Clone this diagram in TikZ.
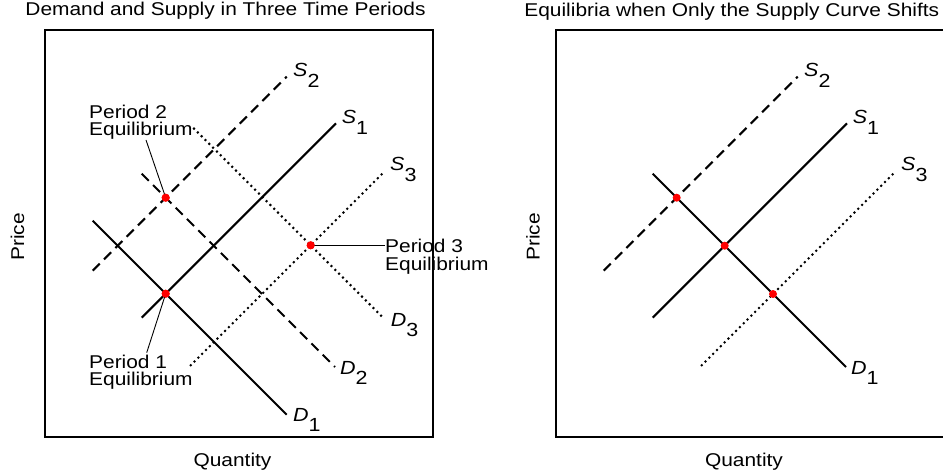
\documentclass[tikz,border=0pt]{standalone}
\usepackage{fontspec}
\setmainfont{Liberation Sans}[FakeStretch=1.13]
\begin{document}
\begin{tikzpicture}[x=1pt,y=-1pt,
  curve/.style={line width=2pt},
  dashcurve/.style={curve, dash pattern=on 10pt off 6pt},
  dotcurve/.style={curve, dash pattern=on 2pt off 3.4pt},
  frame/.style={line width=1.7pt},
  eq/.style={circle, fill=red, inner sep=0pt, minimum size=8pt},
  lbl/.style={anchor=base west, inner sep=0pt, font=\fontsize{19}{19}\selectfont},
  txt/.style={font=\fontsize{18.5}{17.5}\selectfont, align=left, inner sep=0pt, anchor=north west},
  plain/.style={font=\fontsize{18.5}{18.5}\selectfont, inner sep=0pt},
  ptr/.style={line width=0.9pt},
]
\useasboundingbox (0,0) rectangle (943,476);

% titles and axis labels
\node[plain, anchor=base] (t1) at (225.5,16) {Demand and Supply in Three Time Periods};
\node[plain, anchor=base] (t2) at (731.8,17) {Equilibria when Only the Supply Curve Shifts};
\node[plain, rotate=90] (p1) at (17.5,237) {Price};
\node[plain, rotate=90] (p2) at (533,237) {Price};
\node[plain, anchor=base] (q1) at (232.5,466) {Quantity};
\node[plain, anchor=base] (q2) at (744,466) {Quantity};

% left panel curve end points
\coordinate (s1a) at (141.7,317.7); \coordinate (s1b) at (336,123.4);
\coordinate (d1a) at (92.7,220.7);  \coordinate (d1b) at (286.7,414.7);
\coordinate (s2a) at (92.7,270.7);  \coordinate (s2b) at (286.7,76.7);
\coordinate (d2a) at (141.7,173.7); \coordinate (d2b) at (335,367);
\coordinate (s3a) at (190,366);     \coordinate (s3b) at (383.3,172.7);
\coordinate (d3a) at (193.3,127.9); \coordinate (d3b) at (383.3,317.9);

\draw[curve] (s1a) -- (s1b);
\draw[curve] (d1a) -- (d1b);
\draw[dashcurve] (s2a) -- (s2b);
\draw[dashcurve] (d2a) -- (d2b);
\draw[dotcurve] (s3a) -- (s3b);
\draw[dotcurve] (d3a) -- (d3b);

% curve labels
\node[lbl] (ls2) at (293,76.7) {\textit{S}\raisebox{-10.5pt}{2}};
\node[lbl] (ls1) at (341.7,124) {\textit{S}\raisebox{-10.5pt}{1}};
\node[lbl] (ls3) at (390,170.7) {\textit{S}\raisebox{-10.5pt}{3}};
\node[lbl] (ld1) at (293,421) {\textit{D}\raisebox{-10.5pt}{1}};
\node[lbl] (ld2) at (340,374.3) {\textit{D}\raisebox{-10.5pt}{2}};
\node[lbl] (ld3) at (390.7,326) {\textit{D}\raisebox{-10.5pt}{3}};

% equilibrium labels
\node[txt] (lp2) at (89,104.8) {Period 2\\Equilibrium};
\node[txt] (lp1) at (89,354.8) {Period 1\\Equilibrium};
\node[txt] (lp3) at (385,239.2) {Period 3\\Equilibrium};
\coordinate (p2start) at (146,140);
\coordinate (p1start) at (146.7,352.7);
\coordinate (p3end) at (385,245.3);

% dots
\node[eq] (e1) at (165.7,293.7) {};
\node[eq] (e2) at (165.7,197.7) {};
\node[eq] (e3) at (310.7,245.3) {};

\draw[ptr] (p2start) -- (e2.center);
\draw[ptr] (p1start) -- (e1.center);
\draw[line width=1.4pt] (e3.center) -- (p3end);
\node[eq] at (e1) {};
\node[eq] at (e2) {};
\node[eq] at (e3) {};

% right panel
\coordinate (rs1a) at (652.7,317.7); \coordinate (rs1b) at (847,123.4);
\coordinate (rs2a) at (603.7,270.7); \coordinate (rs2b) at (797.7,76.7);
\coordinate (rs3a) at (701,366);     \coordinate (rs3b) at (894.3,172.7);
\coordinate (rd1a) at (652.7,173.7); \coordinate (rd1b) at (846,367);
\draw[curve] (rs1a) -- (rs1b);
\draw[dashcurve] (rs2a) -- (rs2b);
\draw[dotcurve] (rs3a) -- (rs3b);
\draw[curve] (rd1a) -- (rd1b);

\node[lbl] (rls2) at (804,76.7) {\textit{S}\raisebox{-10.5pt}{2}};
\node[lbl] (rls1) at (852.7,124) {\textit{S}\raisebox{-10.5pt}{1}};
\node[lbl] (rls3) at (901,170.7) {\textit{S}\raisebox{-10.5pt}{3}};
\node[lbl] (rld1) at (851,374.3) {\textit{D}\raisebox{-10.5pt}{1}};

\node[eq] (r2) at (676.7,197.7) {};
\node[eq] (r1) at (724.7,245.7) {};
\node[eq] (r3) at (773,294) {};

% frames
\draw[frame] (45,30) rectangle (433,437);
\draw[frame] (943,30) -- (556,30) -- (556,437) -- (943,437);
\end{tikzpicture}
\end{document}
